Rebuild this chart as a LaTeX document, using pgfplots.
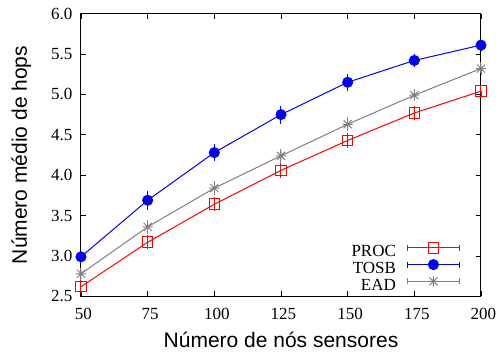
\documentclass[border=0pt]{standalone}
\usepackage{pgfplots}
\pgfplotsset{compat=1.18}
\usepackage{fontspec}
\setmainfont{Liberation Serif}
\newfontfamily\labelfont{Liberation Sans}
\definecolor{procred}{RGB}{255,0,0}
\definecolor{tosbblue}{RGB}{0,0,255}
\definecolor{eadgray}{RGB}{128,128,128}
\pgfdeclareplotmark{pluscross}{%
  \pgfpathmoveto{\pgfqpoint{0pt}{\pgfplotmarksize}}\pgfpathlineto{\pgfqpoint{0pt}{-\pgfplotmarksize}}%
  \pgfpathmoveto{\pgfqpoint{\pgfplotmarksize}{0pt}}\pgfpathlineto{\pgfqpoint{-\pgfplotmarksize}{0pt}}%
  \pgfpathmoveto{\pgfqpoint{0.8\pgfplotmarksize}{0.8\pgfplotmarksize}}\pgfpathlineto{\pgfqpoint{-0.8\pgfplotmarksize}{-0.8\pgfplotmarksize}}%
  \pgfpathmoveto{\pgfqpoint{0.8\pgfplotmarksize}{-0.8\pgfplotmarksize}}\pgfpathlineto{\pgfqpoint{-0.8\pgfplotmarksize}{0.8\pgfplotmarksize}}%
  \pgfusepathqstroke}
\begin{document}
\begin{tikzpicture}
\begin{axis}[
  name=ax,
  scale only axis,
  width=400pt, height=282.8pt,
  xmin=50, xmax=200, ymin=2.5, ymax=6.0,
  xtick={50,75,100,125,150,175,200},
  ytick={2.5,3.0,3.5,4.0,4.5,5.0,5.5,6.0},
  yticklabel style={/pgf/number format/fixed, /pgf/number format/fixed zerofill, /pgf/number format/precision=1},
  /pgf/number format/assume math mode=true,
  tick align=inside,
  major tick length=5pt,
  tick style={black, line width=0.8pt},
  axis line style={black, line width=1pt},
  ticklabel style={font=\fontsize{17}{20}\selectfont},
  xticklabel style={yshift=-8pt, xshift=2.5pt},
  yticklabel style={xshift=-5pt},
  xlabel={Número de nós sensores},
  ylabel={Número médio de hops},
  xlabel style={font=\labelfont\fontsize{21}{24}\selectfont, at={(rel axis cs:0.5,0)}, anchor=base, yshift=-51.3pt},
  ylabel style={font=\labelfont\fontsize{21}{24}\selectfont, at={([xshift=-54pt]rel axis cs:0,0.5)}, anchor=base},
  legend plot pos=right,
  legend cell align=right,
  legend style={draw=none, fill=none, at={(axis cs:192.1,2.51)}, anchor=south east,
    inner sep=0pt, outer sep=0pt, row sep=-2.5pt, column sep=11pt,
    font=\fontsize{17}{17.5}\selectfont,
    nodes={inner sep=0pt, text height=12pt, text depth=5.5pt}},
  legend image code/.code={%
    \draw[#1, mark=none, yshift=5.5pt] (0pt,0pt)--(52pt,0pt) (0pt,-3pt)--(0pt,3pt) (52pt,-3pt)--(52pt,3pt);
    \draw[#1, yshift=5.5pt] plot coordinates {(26pt,0pt)};
  },
  clip=false,
]
\addplot[procred, line width=1pt, mark=square, mark size=5.3pt, mark options={solid, fill=none},
  error bars/.cd, y dir=both, y explicit, error bar style={line width=1pt}, error mark options={mark size=3pt, line width=1pt}]
  coordinates {
  (50,2.62) +- (0,0.04)
  (75,3.17) +- (0,0.05)
  (100,3.64) +- (0,0.05)
  (125,4.06) +- (0,0.06)
  (150,4.43) +- (0,0.06)
  (175,4.77) +- (0,0.05)
  (200,5.04) +- (0,0.04)
  };
\addlegendentry{PROC}
\addplot[tosbblue, line width=1pt, mark=*, mark size=5pt, mark options={solid, fill=tosbblue},
  error bars/.cd, y dir=both, y explicit, error bar style={line width=1pt}, error mark options={mark size=3pt, line width=1pt}]
  coordinates {
  (50,2.99) +- (0,0.04)
  (75,3.69) +- (0,0.08)
  (100,4.28) +- (0,0.07)
  (125,4.75) +- (0,0.075)
  (150,5.15) +- (0,0.065)
  (175,5.42) +- (0,0.04)
  (200,5.61) +- (0,0.04)
  };
\addlegendentry{TOSB}
\addplot[eadgray, line width=1pt, mark=pluscross, mark size=5pt, mark options={solid},
  error bars/.cd, y dir=both, y explicit, error bar style={line width=1pt}, error mark options={mark size=3pt, line width=1pt}]
  coordinates {
  (50,2.78) +- (0,0.04)
  (75,3.36) +- (0,0.05)
  (100,3.84) +- (0,0.05)
  (125,4.24) +- (0,0.05)
  (150,4.63) +- (0,0.05)
  (175,4.99) +- (0,0.04)
  (200,5.32) +- (0,0.04)
  };
\addlegendentry{EAD}
\end{axis}
\pgfresetboundingbox
\path[use as bounding box] (-81pt,-58.6pt) rectangle (415pt,296.4pt);
\end{tikzpicture}
\end{document}
